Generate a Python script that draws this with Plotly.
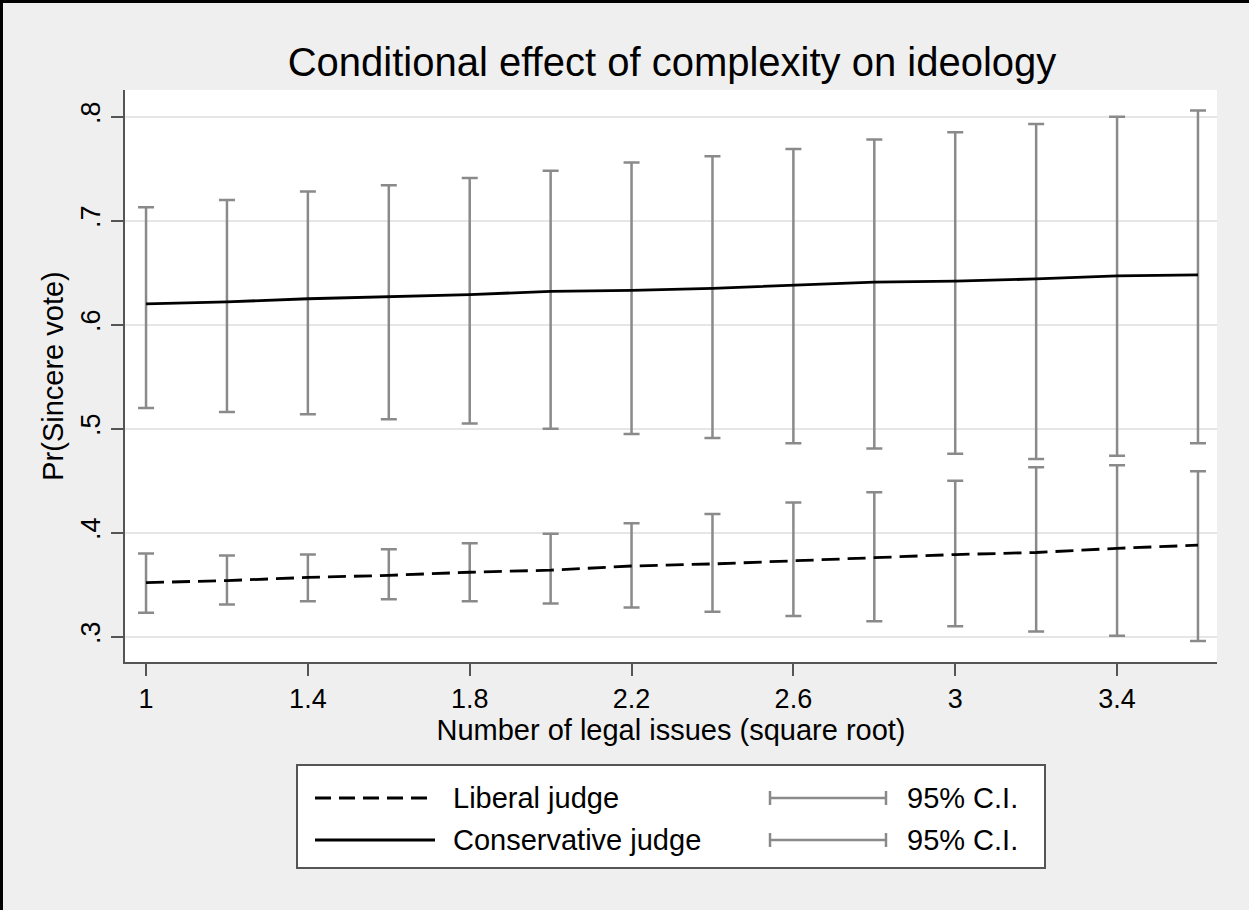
import plotly.graph_objects as go

# ---- data ----
x_vals = [1.0, 1.2, 1.4, 1.6, 1.8, 2.0, 2.2, 2.4, 2.6, 2.8, 3.0, 3.2, 3.4, 3.6]

lib_est = [0.352, 0.354, 0.357, 0.359, 0.362, 0.364, 0.368, 0.370, 0.373, 0.376, 0.379, 0.381, 0.385, 0.388]
lib_hi  = [0.380, 0.378, 0.379, 0.384, 0.390, 0.399, 0.409, 0.418, 0.429, 0.439, 0.450, 0.463, 0.465, 0.459]
lib_lo  = [0.323, 0.331, 0.334, 0.336, 0.334, 0.332, 0.328, 0.324, 0.320, 0.315, 0.310, 0.305, 0.301, 0.296]

con_est = [0.620, 0.622, 0.625, 0.627, 0.629, 0.632, 0.633, 0.635, 0.638, 0.641, 0.642, 0.644, 0.647, 0.648]
con_hi  = [0.713, 0.720, 0.728, 0.734, 0.741, 0.748, 0.756, 0.762, 0.769, 0.778, 0.785, 0.793, 0.800, 0.806]
con_lo  = [0.520, 0.516, 0.514, 0.509, 0.505, 0.500, 0.495, 0.491, 0.486, 0.481, 0.476, 0.471, 0.474, 0.486]

x_ticks = [1, 1.4, 1.8, 2.2, 2.6, 3, 3.4]
y_ticks = [0.3, 0.4, 0.5, 0.6, 0.7, 0.8]
y_ticktext = [".3", ".4", ".5", ".6", ".7", ".8"]

title_text = "Conditional effect of complexity on ideology"
x_title = "Number of legal issues (square root)"
y_title = "Pr(Sincere vote)"
legend_labels = ["Liberal judge", "Conservative judge"]
ci_label = "95% C.I."

# ---- styling ----
FONT = "Liberation Sans, Arial, Helvetica, sans-serif"
BG = "#efefef"
GRID = "#e6e6e6"
AXIS = "#555555"
CI_COLOR = "#8a8a8a"
W, H = 1249, 910
ML, MR, MT, MB = 125, 32, 90, 248
PW, PH = W - ML - MR, H - MT - MB


def px(xpix):
    return (xpix - ML) / PW


def py(ypix):
    return (H - MB - ypix) / PH


def err(est, hi, lo):
    return dict(type="data", symmetric=False,
                array=[h - e for h, e in zip(hi, est)],
                arrayminus=[e - l for e, l in zip(est, lo)],
                color=CI_COLOR, thickness=2.5, width=8)


fig = go.Figure()
# CI bars (error bars only)
fig.add_trace(go.Scatter(x=x_vals, y=con_est, mode="markers", marker=dict(size=0.1, color="rgba(0,0,0,0)"),
                         error_y=err(con_est, con_hi, con_lo), showlegend=False, hoverinfo="skip"))
fig.add_trace(go.Scatter(x=x_vals, y=lib_est, mode="markers", marker=dict(size=0.1, color="rgba(0,0,0,0)"),
                         error_y=err(lib_est, lib_hi, lib_lo), showlegend=False, hoverinfo="skip"))
# estimate lines
fig.add_trace(go.Scatter(x=x_vals, y=lib_est, mode="lines", name=legend_labels[0],
                         line=dict(color="black", width=2.8, dash="18px,8px"), showlegend=False))
fig.add_trace(go.Scatter(x=x_vals, y=con_est, mode="lines", name=legend_labels[1],
                         line=dict(color="black", width=2.8), showlegend=False))

shapes = []
# figure border (left & top)
shapes.append(dict(type="line", xref="paper", yref="paper", x0=px(1.5), x1=px(1.5), y0=py(0), y1=py(H),
                   line=dict(color="black", width=3)))
shapes.append(dict(type="line", xref="paper", yref="paper", x0=px(0), x1=px(W), y0=py(1.5), y1=py(1.5),
                   line=dict(color="black", width=3)))
# legend box
shapes.append(dict(type="rect", xref="paper", yref="paper", x0=px(297), x1=px(1045), y0=py(868), y1=py(765),
                   line=dict(color=AXIS, width=2), fillcolor="white"))
rows = [798, 840]
# line samples
shapes.append(dict(type="line", xref="paper", yref="paper", x0=px(315), x1=px(435), y0=py(rows[0]), y1=py(rows[0]),
                   line=dict(color="black", width=2.8, dash="16px,8px")))
shapes.append(dict(type="line", xref="paper", yref="paper", x0=px(315), x1=px(435), y0=py(rows[1]), y1=py(rows[1]),
                   line=dict(color="black", width=2.8)))
# CI samples
for r in rows:
    shapes.append(dict(type="line", xref="paper", yref="paper", x0=px(770), x1=px(886), y0=py(r), y1=py(r),
                       line=dict(color=CI_COLOR, width=2.5)))
    for xx in (770, 886):
        shapes.append(dict(type="line", xref="paper", yref="paper", x0=px(xx), x1=px(xx), y0=py(r - 7), y1=py(r + 7),
                           line=dict(color=CI_COLOR, width=2.5)))

annotations = []
for r, lab in zip(rows, legend_labels):
    annotations.append(dict(xref="paper", yref="paper", x=px(451), y=py(r), text=lab, showarrow=False,
                            xanchor="left", yanchor="middle", font=dict(family=FONT, size=29, color="black")))
    annotations.append(dict(xref="paper", yref="paper", x=px(905), y=py(r), text=ci_label, showarrow=False,
                            xanchor="left", yanchor="middle", font=dict(family=FONT, size=29, color="black")))

fig.update_layout(
    width=W, height=H,
    margin=dict(l=ML, r=MR, t=MT, b=MB, pad=0),
    paper_bgcolor=BG, plot_bgcolor="white",
    font=dict(family=FONT, color="black"),
    title=dict(text=title_text, xref="container", x=672 / W, xanchor="center",
               yref="container", y=1 - 62 / H, yanchor="middle",
               font=dict(family=FONT, size=40, color="black")),
    shapes=shapes, annotations=annotations,
    showlegend=False,
)
fig.update_xaxes(range=[0.948, 3.647], tickvals=x_ticks, ticktext=[str(t) for t in x_ticks],
                 showgrid=False, zeroline=False, showline=True, linecolor=AXIS, linewidth=2,
                 ticks="outside", ticklen=12, tickwidth=2, tickcolor=AXIS,
                 tickfont=dict(family=FONT, size=27, color="black"),
                 title=dict(text=x_title, font=dict(family=FONT, size=29, color="black"), standoff=6))
fig.update_yaxes(range=[0.2757, 0.8257], tickvals=y_ticks, ticktext=y_ticktext, tickangle=-90,
                 showgrid=True, gridcolor=GRID, gridwidth=2, zeroline=False,
                 showline=True, linecolor=AXIS, linewidth=2,
                 ticks="outside", ticklen=12, tickwidth=2, tickcolor=AXIS,
                 tickfont=dict(family=FONT, size=27, color="black"),
                 title=dict(text=y_title, font=dict(family=FONT, size=29, color="black"), standoff=4))

fig.write_html("out.html", config={"displayModeBar": False},
               post_script="document.body.style.margin='0';")
